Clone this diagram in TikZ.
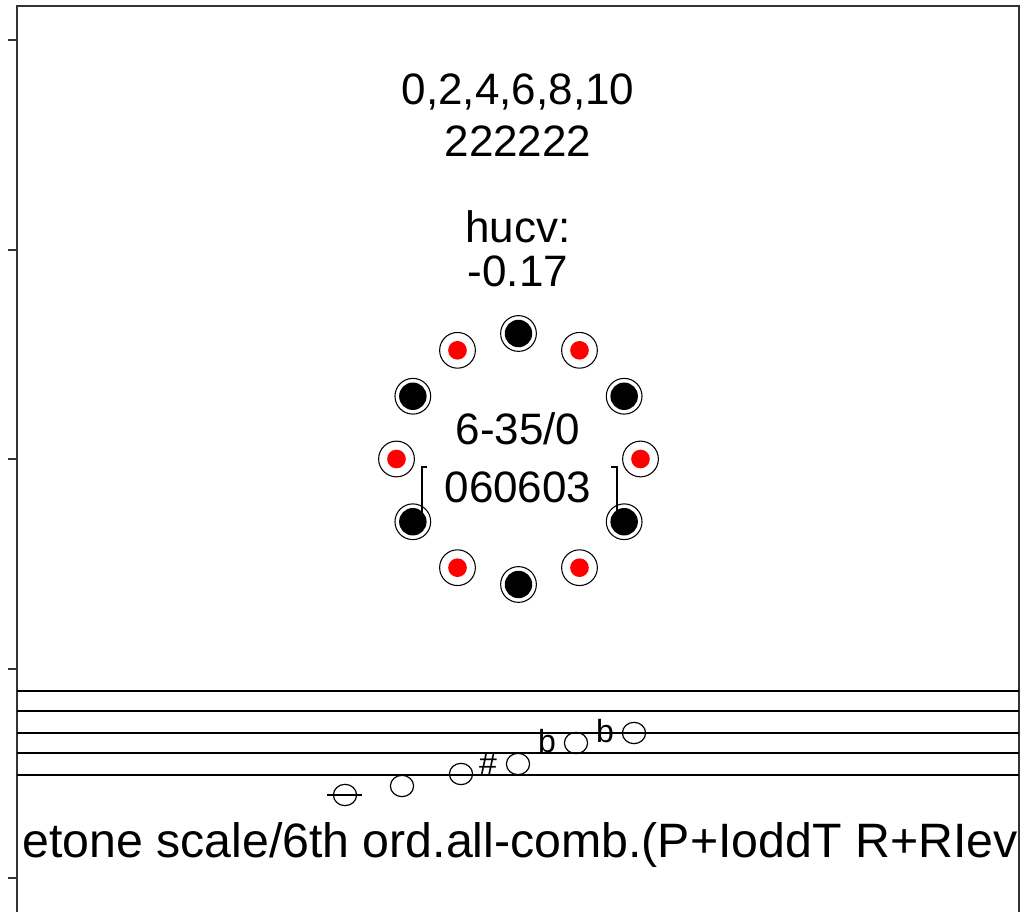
\documentclass[tikz,border=0pt]{standalone}
\usepackage{fontspec}
\setmainfont{Liberation Sans}
\begin{document}
\begin{tikzpicture}[x=0.75pt,y=-0.75pt,
  frame/.style={draw=black!80,line width=1.1pt},
  tick/.style={draw=black!80,line width=1.1pt},
  staffline/.style={draw=black,line width=0.8pt},
  ring/.style={draw=black,line width=0.8pt},
  lbl/.style={anchor=base,inner sep=0pt,font=\fontsize{33}{33}\selectfont},
  accid/.style={inner sep=0pt,font=\fontsize{24}{24}\selectfont},
  notehead/.style={draw=black,line width=0.9pt}]
\useasboundingbox (0,0) rectangle (1026,912);
% frame
\coordinate (fbl) at (17,912);
\coordinate (ftl) at (17,6);
\coordinate (ftr) at (1019,6);
\coordinate (fbr) at (1019,912);
\draw[frame] (fbl) -- (ftl) -- (ftr) -- (fbr);
\foreach \yy in {40,250,459,669,878}{
  \draw[tick] (8,\yy) -- (17,\yy);
}
% header texts
\node[lbl] (t1) at (518,105) {0,2,4,6,8,10};
\node[lbl] (t2) at (518,157) {222222};
\node[lbl] (t3) at (518,243) {hucv:};
\node[lbl] (t4) at (518,287) {-0.17};
\node[lbl] (t5) at (518,445) {6-35/0};
\node[lbl] (t6) at (518,503) {060603};
% pitch-class circle
\foreach \k in {0,...,11}{
  \coordinate (pc\k) at ({518.5+122*sin(30*\k)},{459-125.5*cos(30*\k)});
}
\foreach \k in {0,2,4,6,8,10}{
  \draw[ring] (pc\k) circle[radius=13.4pt];
  \fill[black] (pc\k) circle[radius=10.3pt];
}
\foreach \k in {1,3,5,7,9,11}{
  \draw[ring] (pc\k) circle[radius=13.4pt];
  \fill[red] (pc\k) circle[radius=7pt];
}
% brackets
\coordinate (lbA) at (427,467);
\coordinate (lbB) at (422,467);
\coordinate (rbA) at (611,467);
\coordinate (rbB) at (617,467);
\draw[line width=1.4pt] (lbA) -- (lbB) -- (lbB |- pc8);
\draw[line width=1.4pt] (rbA) -- (rbB) -- (rbB |- pc4);
% staff
\foreach \yy in {691,711,733,753,775}{
  \draw[staffline] (17,\yy) -- (1019,\yy);
}
\coordinate (n1) at (345,795);
\coordinate (lg1) at (327,795);
\coordinate (lg2) at (362,795);
\draw[staffline] (lg1) -- (lg2);
\coordinate (n2) at (402,786);
\coordinate (n3) at (461,774);
\coordinate (n4) at (518,764);
\coordinate (n5) at (576,743);
\coordinate (n6) at (634,733);
\foreach \n in {n1,n2,n3,n4,n5,n6}{
  \draw[notehead] (\n) ellipse[x radius=8.7pt,y radius=8pt];
}
\node[accid] (a4) at (488,764) {\#};
\node[accid] (a5) at (547,741) {b};
\node[accid] (a6) at (605,731) {b};
% footer text
\node[anchor=base west,inner sep=0pt,font=\fontsize{36.2}{36.2}\selectfont] (foot) at (22,858) {etone scale/6th ord.all-comb.(P+IoddT R+RIev};
\end{tikzpicture}
\end{document}
